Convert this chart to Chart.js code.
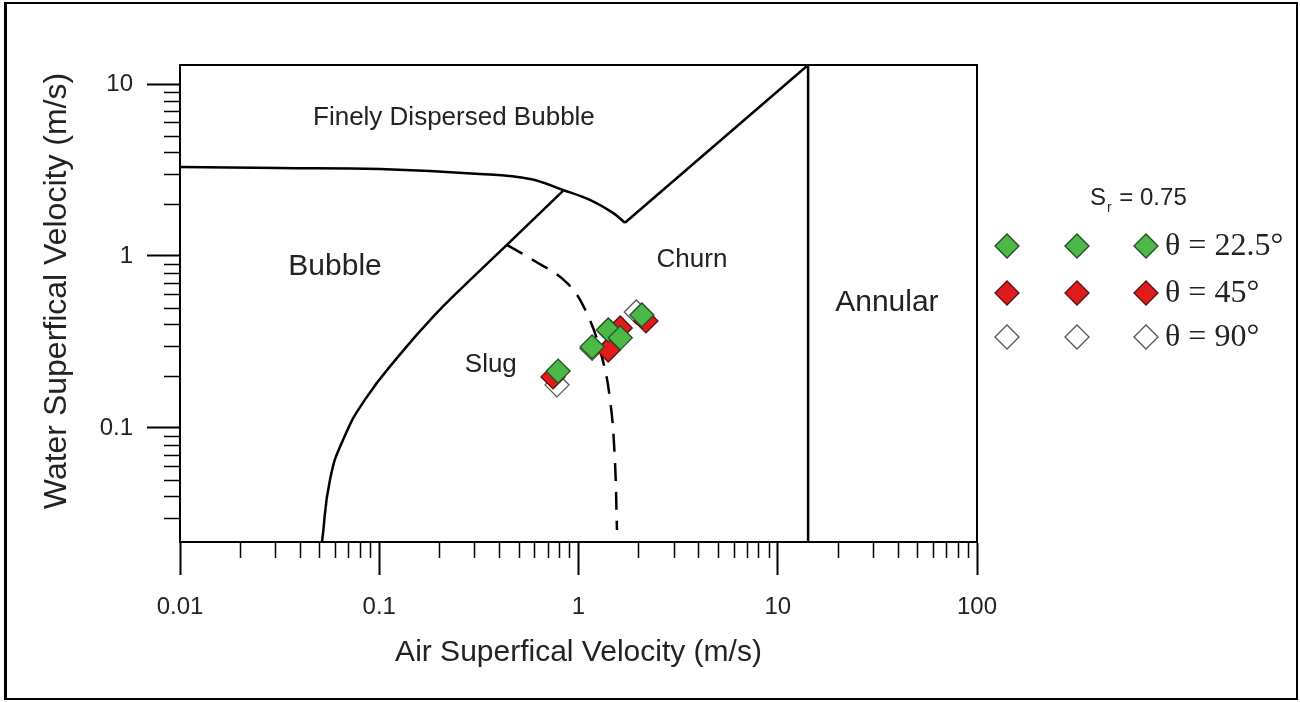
<!DOCTYPE html>
<html>
<head>
<meta charset="utf-8">
<script src="https://cdn.jsdelivr.net/npm/chart.js@4.4.0/dist/chart.umd.min.js"></script>
<style>
  html, body { margin: 0; padding: 0; background: #fff; }
  #wrap { position: relative; width: 1300px; height: 702px; }
  #frame { position: absolute; left: 4px; top: 2px; width: 1289px; height: 694px; border: 2px solid #000; border-left-width: 3px; pointer-events: none; }
</style>
</head>
<body>
<div id="wrap">
  <canvas id="flowChart" width="1300" height="702"></canvas>
  <div id="frame"></div>
</div>
<script>
// axis ticks
const xMajor = [0.01, 0.1, 1, 10, 100];
const xMajorLabels = ["0.01", "0.1", "1", "10", "100"];
const yMajor = [0.1, 1, 10];
const yMajorLabels = ["0.1", "1", "10"];
const minorSteps = [2, 3, 4, 5, 6, 7, 8, 9];
const yMinorExtra = [0.03, 0.04, 0.05, 0.06, 0.07, 0.08, 0.09];

// regime boundaries (air velocity, water velocity)
const dispersedX = [0.01, 0.0318, 0.101, 0.32, 0.571, 0.836, 1.14, 1.49, 1.71];
const dispersedY = [3.29, 3.25, 3.2, 3.0, 2.8, 2.42, 2.12, 1.78, 1.56];
const churnX = [1.71, 14.2];
const churnY = [1.56, 12.9];
const annularX = [14.2, 14.2];
const annularY = [0.0217, 12.9];
const bubbleX = [0.0516, 0.0566, 0.0658, 0.0848, 0.129, 0.186, 0.276, 0.437, 0.836];
const bubbleY = [0.0217, 0.0499, 0.0851, 0.146, 0.273, 0.442, 0.697, 1.16, 2.39];
const slugX = [0.437, 0.591, 0.875, 1.10, 1.31, 1.44, 1.52, 1.56];
const slugY = [1.16, 0.948, 0.697, 0.466, 0.259, 0.146, 0.0678, 0.0255];

// measured points, Sr = 0.75
const greenX = [0.79, 1.17, 1.41, 1.62, 2.08];
const greenY = [0.214, 0.296, 0.371, 0.334, 0.454];
const redX = [0.745, 1.41, 1.62, 2.18];
const redY = [0.198, 0.284, 0.381, 0.419];
const whiteX = [0.78, 1.17, 1.45, 1.95];
const whiteY = [0.178, 0.29, 0.36, 0.472];

const legendRows = ["\u03B8 = 22.5\u00B0", "\u03B8 = 45\u00B0", "\u03B8 = 90\u00B0"];
const legendFill = ["#4cb848", "#e01b1b", "#ffffff"];
const legendEdge = ["#1f4d1f", "#5a1010", "#555555"];

const regionLabels = [
  { text: "Finely Dispersed Bubble", x: 0.237, y: 6.34, size: 26 },
  { text: "Bubble", x: 0.06, y: 0.863, size: 30 },
  { text: "Slug", x: 0.363, y: 0.232, size: 26 },
  { text: "Churn", x: 3.71, y: 0.95, size: 26 },
  { text: "Annular", x: 35.3, y: 0.533, size: 30 },
];

const sans = "Arial, 'Liberation Sans', sans-serif";

function pts(xs, ys) {
  return xs.map((x, i) => ({ x: x, y: ys[i] }));
}

function minorsOf(majors, extra) {
  let out = extra.slice();
  majors.slice(0, -1).forEach((m) => minorSteps.forEach((s) => out.push(m * s)));
  return out;
}

const xMinor = minorsOf(xMajor, []);
const yMinor = minorsOf(yMajor, yMinorExtra);

function majorLabel(v, majors, labels) {
  let idx = majors.findIndex((m) => Math.abs(v - m) < m * 1e-6);
  return idx >= 0 ? labels[idx] : "";
}

function markerSet(label, xs, ys, fill, edge) {
  return {
    label: label,
    data: pts(xs, ys),
    pointStyle: "rectRot",
    pointRadius: 12,
    pointHoverRadius: 12,
    backgroundColor: fill,
    borderColor: edge,
    borderWidth: 1.3,
    showLine: false,
  };
}

function lineSet(label, xs, ys, dashed, tension) {
  return {
    label: label,
    data: pts(xs, ys),
    showLine: true,
    pointRadius: 0,
    borderColor: "#000",
    borderWidth: 2.5,
    borderDash: dashed ? [18, 11] : [],
    tension: tension,
    fill: false,
  };
}

const frameAndTicks = {
  id: "frameAndTicks",
  afterDraw(chart) {
    const { ctx, chartArea: a, scales } = chart;
    ctx.save();
    ctx.strokeStyle = "#000";
    ctx.lineWidth = 1.5;
    ctx.beginPath();
    xMinor.forEach((v) => {
      let px = Math.round(scales.x.getPixelForValue(v)) + 0.5;
      ctx.moveTo(px, a.bottom);
      ctx.lineTo(px, a.bottom + 16);
    });
    yMinor.forEach((v) => {
      let py = Math.round(scales.y.getPixelForValue(v)) + 0.5;
      ctx.moveTo(a.left, py);
      ctx.lineTo(a.left - 16, py);
    });
    ctx.stroke();
    ctx.lineWidth = 2;
    ctx.strokeRect(a.left, a.top, a.right - a.left, a.bottom - a.top);

    // y axis title
    ctx.fillStyle = "#222";
    ctx.textAlign = "center";
    ctx.textBaseline = "middle";
    ctx.save();
    ctx.translate(57, 291);
    ctx.rotate(-Math.PI / 2);
    ctx.font = "32px " + sans;
    ctx.fillText("Water Superfical Velocity (m/s)", 0, 0);
    ctx.restore();

    // region names
    regionLabels.forEach((r) => {
      ctx.font = r.size + "px " + sans;
      ctx.fillText(r.text, scales.x.getPixelForValue(r.x), scales.y.getPixelForValue(r.y));
    });

    // legend
    ctx.textAlign = "left";
    ctx.font = "24px " + sans;
    ctx.fillText("S", 1090, 198);
    let sw = ctx.measureText("S").width;
    ctx.font = "14px " + sans;
    ctx.fillText("r", 1090 + sw + 1, 208);
    let rw = ctx.measureText("r").width;
    ctx.font = "24px " + sans;
    ctx.fillText(" = 0.75", 1090 + sw + rw + 2, 198);

    const cols = [1007, 1077, 1146];
    const rows = [246, 293, 337];
    rows.forEach((ry, i) => {
      cols.forEach((cx) => {
        ctx.beginPath();
        ctx.moveTo(cx - 12, ry);
        ctx.lineTo(cx, ry - 12);
        ctx.lineTo(cx + 12, ry);
        ctx.lineTo(cx, ry + 12);
        ctx.closePath();
        ctx.fillStyle = legendFill[i];
        ctx.fill();
        ctx.lineWidth = 1.3;
        ctx.strokeStyle = legendEdge[i];
        ctx.stroke();
      });
      ctx.fillStyle = "#222";
      ctx.font = "32px 'Liberation Serif', 'Times New Roman', serif";
      ctx.fillText(legendRows[i], 1165, ry + 1);
    });
    ctx.restore();
  },
};

const tickFont = { family: sans, size: 24 };

new Chart(document.getElementById("flowChart").getContext("2d"), {
  type: "scatter",
  data: {
    datasets: [
      markerSet("22.5", greenX, greenY, "#4cb848", "#1f4d1f"),
      markerSet("45", redX, redY, "#e01b1b", "#5a1010"),
      markerSet("90", whiteX, whiteY, "#ffffff", "#555555"),
      lineSet("slug-churn", slugX, slugY, true, 0.4),
      lineSet("bubble-slug", bubbleX, bubbleY, false, 0.5),
      lineSet("dispersed", dispersedX, dispersedY, false, 0.4),
      lineSet("churn-dispersed", churnX, churnY, false, 0),
      lineSet("annular", annularX, annularY, false, 0),
    ],
  },
  options: {
    responsive: false,
    animation: false,
    events: [],
    layout: { padding: { left: 0, right: 323, top: 65, bottom: 0 } },
    plugins: { legend: { display: false }, tooltip: { enabled: false } },
    scales: {
      x: {
        type: "logarithmic",
        min: 0.01,
        max: 100,
        afterFit: (s) => {
          s.height = 160;
        },
        afterBuildTicks: (s) => {
          s.ticks = xMajor.map((v) => ({ value: v, major: true }));
        },
        ticks: {
          autoSkip: false,
          maxRotation: 0,
          padding: 18,
          color: "#222",
          font: tickFont,
          callback: (v) => majorLabel(v, xMajor, xMajorLabels),
        },
        grid: { drawOnChartArea: false, tickLength: 33, tickWidth: 2, tickColor: "#000" },
        border: { color: "#000", width: 2 },
        title: {
          display: true,
          text: "Air Superfical Velocity (m/s)",
          color: "#222",
          font: { family: sans, size: 30 },
          padding: { top: 0, bottom: 31 },
        },
      },
      y: {
        type: "logarithmic",
        min: 0.0217,
        max: 12.9,
        afterFit: (s) => {
          s.width = 180;
        },
        afterBuildTicks: (s) => {
          s.ticks = yMajor.map((v) => ({ value: v, major: true }));
        },
        ticks: {
          autoSkip: false,
          padding: 14,
          color: "#222",
          font: tickFont,
          callback: (v) => majorLabel(v, yMajor, yMajorLabels),
        },
        grid: { drawOnChartArea: false, tickLength: 33, tickWidth: 2, tickColor: "#000" },
        border: { color: "#000", width: 2 },
        title: { display: false },
      },
    },
  },
  plugins: [frameAndTicks],
});
</script>
</body>
</html>
